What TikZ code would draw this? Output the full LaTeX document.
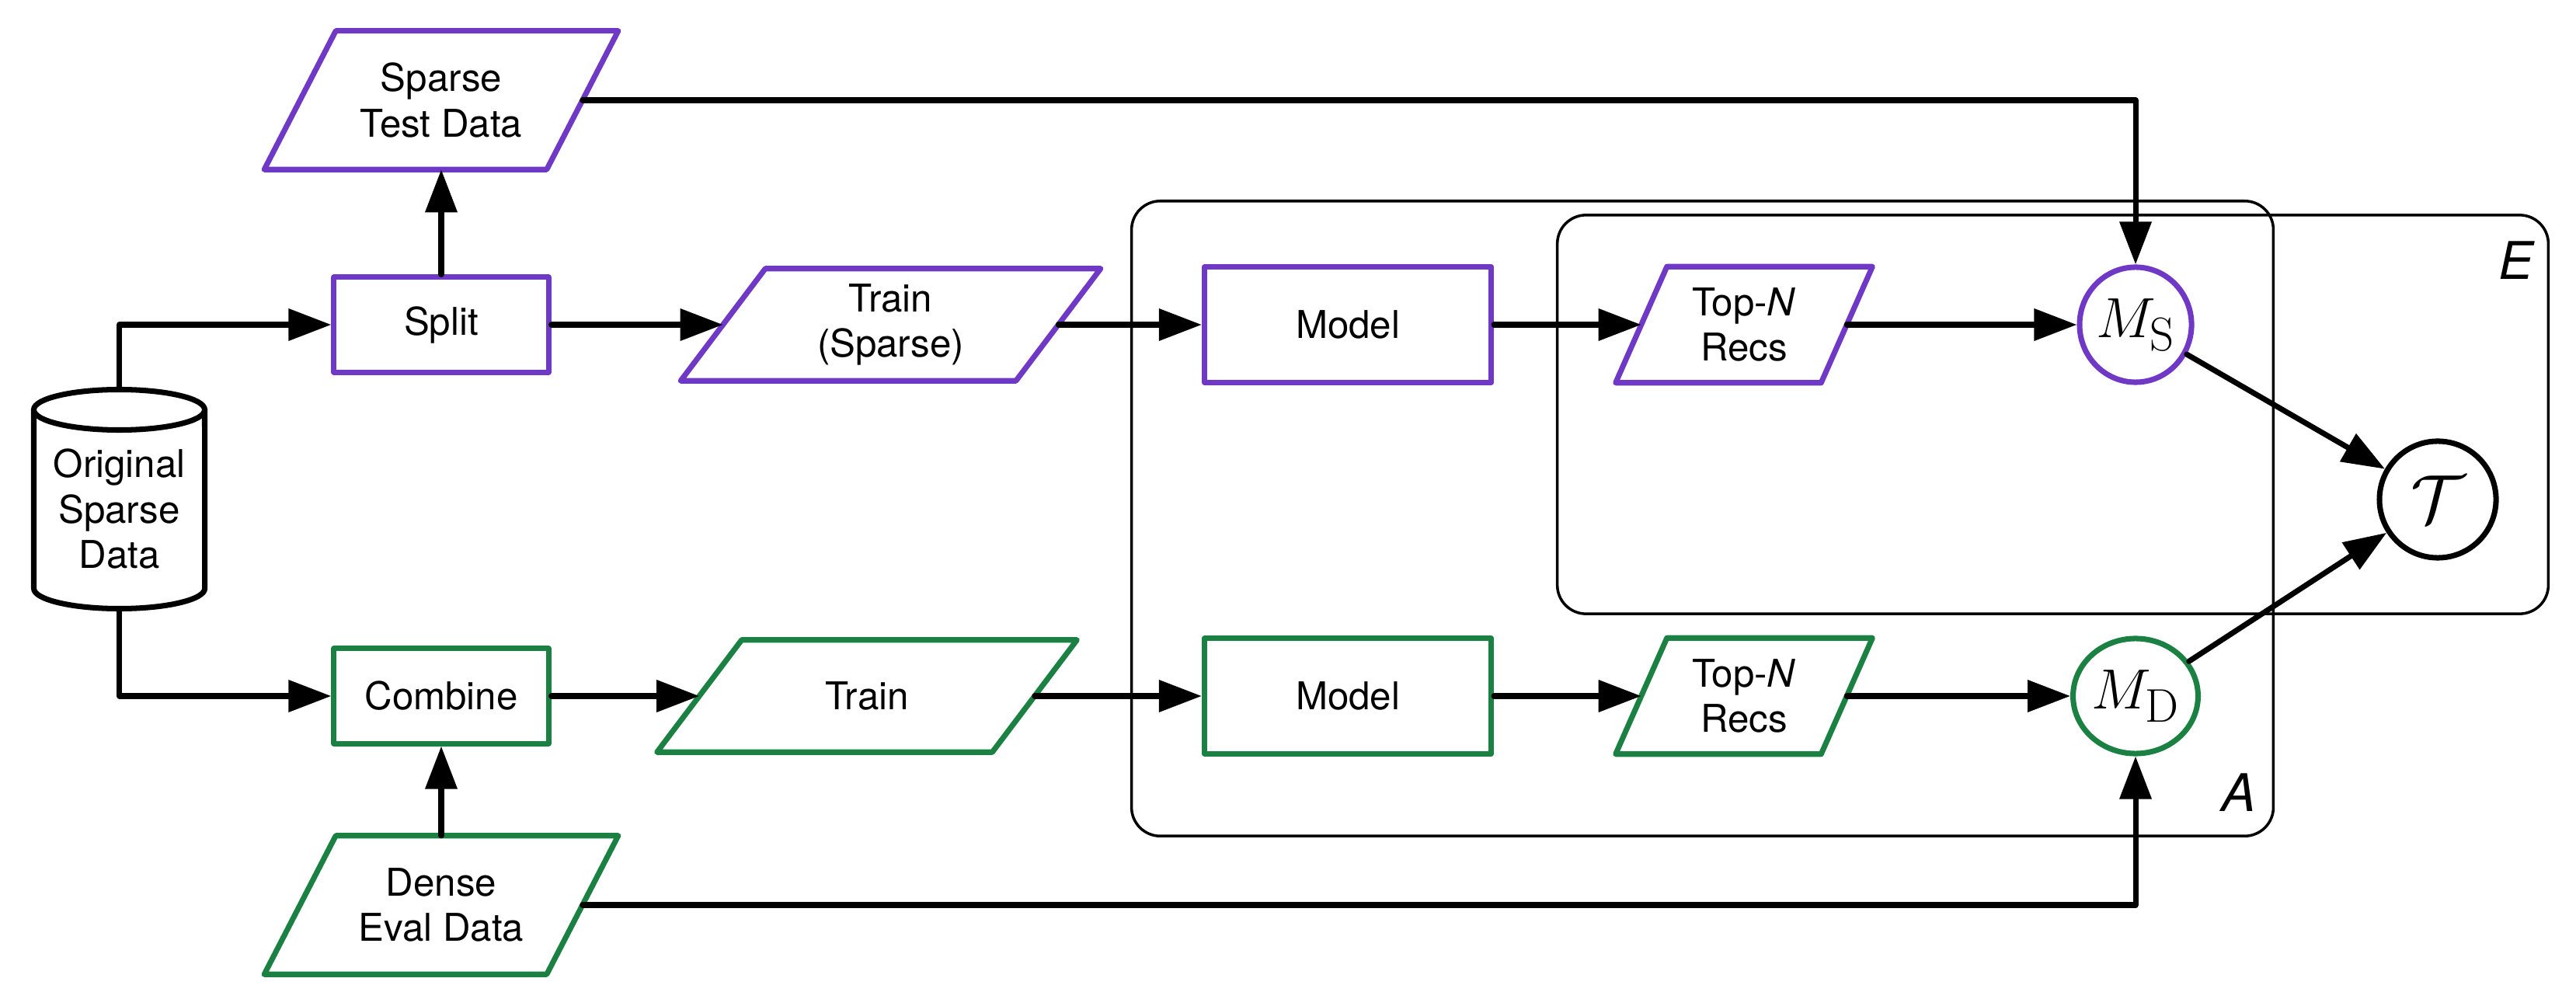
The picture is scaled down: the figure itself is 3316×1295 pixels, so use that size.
\documentclass[tikz,border=0pt]{standalone}
\usepackage[no-math]{fontspec}
\setmainfont{TeX Gyre Heros}
\usetikzlibrary{arrows.meta,shapes.geometric}
\definecolor{purp}{RGB}{111,56,197}
\definecolor{grn}{RGB}{27,129,66}
\newcommand{\paraframe}[3]{%
  \draw[#2, line width=2pt, line join=round]
    ([xshift=-#3]#1.south west) -- ([xshift=#3]#1.north west) --
    ([xshift=#3]#1.north east) -- ([xshift=-#3]#1.south east) -- cycle;}
\begin{document}
\begin{tikzpicture}[x=0.01cm,y=-0.01cm,
  every node/.style={font=\fontsize{14}{16.5}\selectfont, align=center, inner sep=0pt},
  conn/.style={line width=2pt, line cap=round, line join=round, -{Triangle[length=0.55cm,width=0.4cm]}},
  plain/.style={line width=2pt, line cap=round, line join=round},
  cont/.style={draw, line width=1pt, rounded corners=0.37cm},
  lab/.style={font=\fontsize{19}{22}\selectfont\itshape},
  smallbox/.style={line width=2pt, line join=round, fill=white, minimum width=2.76cm, minimum height=1.22cm},
  modelbox/.style={line width=2pt, line join=round, fill=white, minimum width=3.69cm, minimum height=1.48cm},
  para/.style={},
  ell/.style={ellipse, line width=2pt, fill=white, minimum width=1.42cm, minimum height=1.48cm, font=\fontsize{22.8}{26}\selectfont},
  tauc/.style={circle, draw, line width=2pt, fill=white, minimum size=1.5cm, font=\fontsize{24.88}{28}\selectfont}
]
\useasboundingbox (0,0) rectangle (3316,1295);

% containers
\node[cont, minimum width=14.69cm, minimum height=8.17cm] (boxA) at (2191.5,667.5) {};
\node[cont, minimum width=12.75cm, minimum height=5.13cm] (boxE) at (2642.5,533.5) {};
\node[lab, anchor=base east] (labE) at (3262,360) {E};
\node[lab, anchor=base east] (labA) at (2905,1044) {A};

% cylinder
\coordinate (origtop) at (153.5,501.5);
\coordinate (origbot) at (153.5,783.5);
\draw[plain, fill=white] (43.5,527.5) -- (43.5,757.5)
  arc[start angle=180, end angle=360, x radius=1.1cm, y radius=0.26cm] -- (263.5,527.5);
\draw[plain] (153.5,527.5) ellipse [x radius=1.1cm, y radius=0.26cm];
\node (orig) at (153.5,655) {Original\\Sparse\\Data};

% boxes
\node[smallbox, draw=purp] (split) at (568,418) {Split};
\node[smallbox, draw=grn] (combine) at (568,896) {Combine};
\node[modelbox, draw=purp] (m1) at (1735,418) {Model};
\node[modelbox, draw=grn] (m2) at (1735,896) {Model};

% parallelograms
\node[para, minimum width=3.62cm, minimum height=1.77cm] (tsd) at (568,129) {Sparse\\Test Data};
\paraframe{tsd}{purp}{0.46cm}
\node[para, minimum width=3.62cm, minimum height=1.77cm] (ded) at (568,1165) {Dense\\Eval Data};
\paraframe{ded}{grn}{0.46cm}
\node[para, minimum width=4.30cm, minimum height=1.43cm] (trs) at (1146.5,418) {Train\\(Sparse)};
\paraframe{trs}{purp}{0.545cm}
\node[para, minimum width=4.30cm, minimum height=1.43cm] (trg) at (1116,896) {Train};
\paraframe{trg}{grn}{0.545cm}
\node[para, minimum width=2.63cm, minimum height=1.48cm] (tn1) at (2245,418) {Top-\textit{N}\\Recs};
\paraframe{tn1}{purp}{0.33cm}
\node[para, minimum width=2.63cm, minimum height=1.48cm] (tn2) at (2245,896) {Top-\textit{N}\\Recs};
\paraframe{tn2}{grn}{0.33cm}

% metrics
\node[ell, draw=purp] (ms) at (2749,418) {$M_{\mathrm{S}}$};
\node[ell, draw=grn] (md) at (2749,896) {$M_{\mathrm{D}}$};
\node[tauc] (tau) at (3138,643) {$\mathcal{T}$};

% connectors
\draw[conn] (origtop) |- (split.west);
\draw[conn] (origbot) |- (combine.west);
\draw[conn] (split.north) -- (tsd.south);
\draw[conn] (ded.north) -- (combine.south);
\draw[conn] (split.east) -- (trs.west);
\draw[conn] (combine.east) -- (trg.west);
\draw[conn] (trs.east) -- (m1.west);
\draw[conn] (trg.east) -- (m2.west);
\draw[conn] (m1.east) -- (tn1.west);
\draw[conn] (m2.east) -- (tn2.west);
\draw[conn] (tn1.east) -- (ms.west);
\draw[conn] (tn2.east) -- (md.west);
\draw[conn] (tsd.east) -| (ms.north);
\draw[conn] (ded.east) -| (md.south);
\draw[conn] (ms) -- (tau);
\draw[conn] (md) -- (tau);
\end{tikzpicture}
\end{document}
